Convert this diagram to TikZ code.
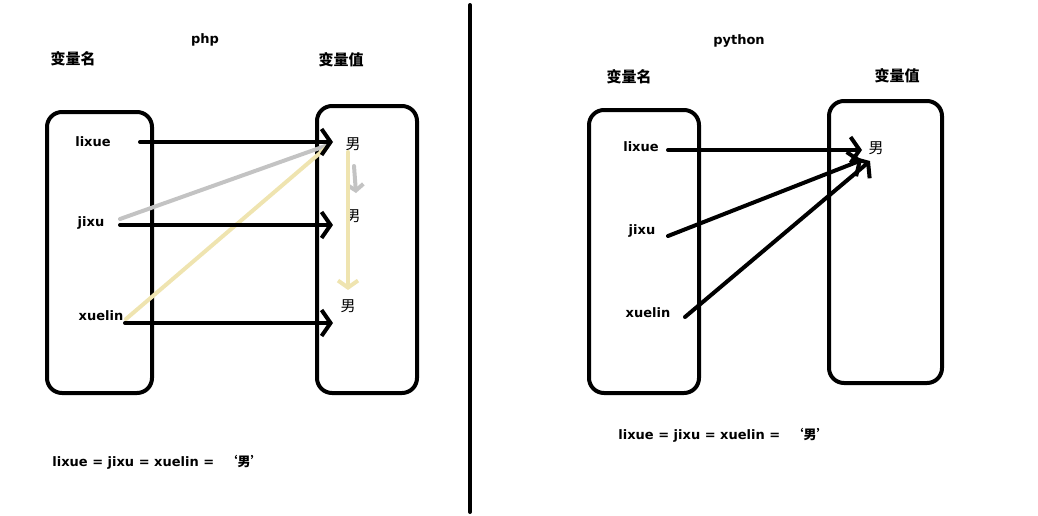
\documentclass[tikz,border=0pt]{standalone}
\usepackage{fontspec}
\setmainfont{DejaVu Sans}
\newfontfamily\cjk{Noto Sans CJK SC}
\usetikzlibrary{arrows.meta}
\definecolor{lightgrey}{RGB}{195,195,195}
\definecolor{beige}{RGB}{239,228,176}
\tikzset{
  box/.style={line width=4pt,rounded corners=15pt},
  lbl/.style={font=\bfseries\fontsize{13}{15}\selectfont,inner sep=0pt},
  head/.style={font=\cjk\bfseries\fontsize{15}{17}\selectfont,inner sep=0pt},
  val/.style={font=\cjk\fontsize{15}{17}\selectfont,inner sep=0pt},
  ptr/.style={line width=4pt,line cap=round,-{Straight Barb[length=9pt,width=26pt]}},
}
\begin{document}
\begin{tikzpicture}[x=1pt,y=-1pt,line join=round,line cap=round]
	\useasboundingbox (0,0) rectangle (1038,515);
	% divider
	\draw[line width=4pt] (470,5)--(470,512);
	% php
	\draw[box] (47,112) rectangle (152,393);
	\draw[box] (317,106) rectangle (417,393);
	\node[lbl] (phptitle) at (205,40) {php};
	\node[head] (phpnames) at (73,59) {变量名};
	\node[head] (phpvalues) at (341,60) {变量值};
	\foreach \n/\x/\y in {lixue/93/142,jixu/91/223,xuelin/101/316}
	\node[lbl] (php\n) at (\x,\y) {\n};
	\foreach \n/\x/\y in {a/353/144,b/353/216,c/348/306}
	\node[val] (phpval\n) at (\x,\y) {男};
	\path (140,142) coordinate (L1) (120,225) coordinate (J1) (125,323) coordinate (X1)
	      (333,142) coordinate (Va) (333,225) coordinate (Vb) (333,323) coordinate (Vc);
	\draw[lightgrey,line width=4pt] (120,219)--(328,145);
	\draw[beige,line width=4pt] (126,319)--(327,147);
	\draw[ptr,lightgrey,-{Straight Barb[length=6pt,width=16pt]}] (354,166)--(356,193);
	\draw[ptr,beige,-{Straight Barb[length=7pt,width=20pt]}] (348,152)--(348,290);
	\foreach \s/\t in {L1/Va,J1/Vb,X1/Vc}
	\draw[ptr] (\s)--(\t);
	\node[lbl] (phpeq) at (158,462) {lixue = jixu = xuelin =\hspace{0.8em}{\cjk ‘男’}};
	% python
	\draw[box] (589,110) rectangle (699,393);
	\draw[box] (829,101) rectangle (942,383);
	\node[lbl] (pytitle) at (739,41) {python};
	\node[head] (pynames) at (629,77) {变量名};
	\node[head] (pyvalues) at (897,76) {变量值};
	\foreach \n/\x/\y in {lixue/641/147,jixu/642/231,xuelin/648/313}
	\node[lbl] (py\n) at (\x,\y) {\n};
	\node[val] (pyval) at (876,148) {男};
	\path (668,150) coordinate (PL) (668,236) coordinate (PJ) (685,317) coordinate (PX)
	      (862,150) coordinate (PV1) (862,160) coordinate (PV2) (870,161) coordinate (PV3);
	\foreach \s/\t in {PL/PV1,PJ/PV2,PX/PV3}
	\draw[ptr] (\s)--(\t);
	\node[lbl] (pyeq) at (724,435) {lixue = jixu = xuelin =\hspace{0.8em}{\cjk ‘男’}};
\end{tikzpicture}
\end{document}
